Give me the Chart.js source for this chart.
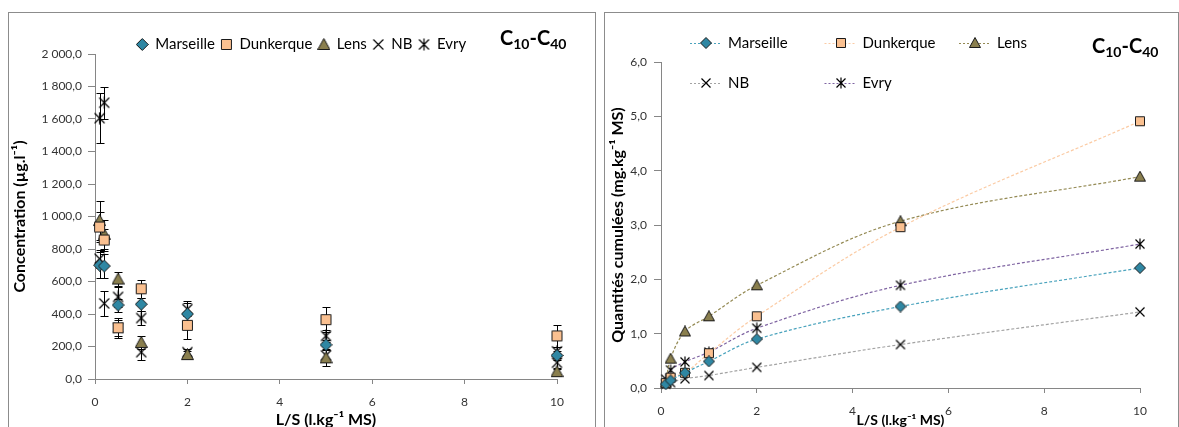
<!DOCTYPE html>
<html>
<head>
<meta charset="utf-8">
<script src="https://cdn.jsdelivr.net/npm/chart.js@4.4.1/dist/chart.umd.min.js"></script>
<style>
  body { margin: 0; background: #fff; width: 1179px; height: 427px; overflow: hidden; position: relative; font-family: Lato, "Open Sans", sans-serif; }
  .frame { position: absolute; border: 1px solid #8c8c8c; box-sizing: border-box; }
  .box { position: absolute; }
  .tag { position: absolute; font-weight: bold; font-size: 20px; color: #000; line-height: 1; white-space: nowrap; }
  .tag sub { font-size: 14px; vertical-align: -4px; line-height: 1; }
</style>
</head>
<body>
<div class="frame" style="left:8px;top:12px;width:588px;height:440px"></div>
<div class="frame" style="left:604px;top:12px;width:575px;height:440px"></div>
<div class="box" style="left:9px;top:13px"><canvas id="concChart" width="585" height="430"></canvas></div>
<div class="box" style="left:605px;top:13px"><canvas id="cumulChart" width="572" height="430"></canvas></div>
<div class="tag" style="left:500px;top:27px">C<sub>10</sub>-C<sub>40</sub></div>
<div class="tag" style="left:1092px;top:35px">C<sub>10</sub>-C<sub>40</sub></div>
<script>
// L/S ratios (l/kg MS)
const lsValues = [0.1, 0.2, 0.5, 1, 2, 5, 10];
const lsTicks = [0, 2, 4, 6, 8, 10];
const concTicks = [0, 200, 400, 600, 800, 1000, 1200, 1400, 1600, 1800, 2000];
const cumTicks = [0, 1, 2, 3, 4, 5, 6];

// concentrations (µg/l) and error bars
const concMarseille = [700, 695, 455, 460, 400, 210, 145];
const concDunkerque = [935, 855, 315, 555, 330, 365, 265];
const concLens = [975, 890, 615, 225, 150, 130, 45];
const concNB = [740, 465, 315, 165, 165, 145, 100];
const concEvry = [1605, 1700, 505, 375, 430, 265, 170];

const errMarseille = [80, 75, 40, 40, 78, 30, 30];
const errDunkerque = [90, 70, 60, 57, 85, 78, 67];
const errLens = [120, 88, 45, 40, 25, 50, 15];
const errNB = [55, 75, 50, 45, 20, 40, 30];
const errEvry = [155, 100, 60, 45, 40, 35, 30];

// cumulated quantities (mg/kg MS)
const cumMarseille = [0.07, 0.14, 0.28, 0.49, 0.90, 1.50, 2.21];
const cumDunkerque = [0.09, 0.19, 0.28, 0.64, 1.32, 2.96, 4.91];
const cumLens = [0.10, 0.54, 1.04, 1.32, 1.89, 3.07, 3.89];
const cumNB = [0.07, 0.10, 0.17, 0.23, 0.38, 0.80, 1.40];
const cumEvry = [0.16, 0.33, 0.48, 0.66, 1.10, 1.89, 2.65];

const siteNames = ['Marseille', 'Dunkerque', 'Lens', 'NB', 'Evry'];
const siteShapes = ['diamond', 'square', 'triangle', 'cross', 'asterisk'];
const siteFills = ['#2f87a3', '#fac090', '#8a7f4e', '#000', '#000'];
const siteLines = ['#4aa3bd', '#fbcba4', '#948a54', '#a3a3a3', '#7f64a2'];

Chart.defaults.font.family = 'Lato, "Open Sans", sans-serif';
Chart.defaults.color = '#333';

function makeMarker(shape, fill, s) {
  const c = document.createElement('canvas');
  c.width = s; c.height = s;
  const g = c.getContext('2d');
  const m = s / 2;
  g.lineWidth = 1;
  g.strokeStyle = '#1a1a1a';
  g.fillStyle = fill;
  g.beginPath();
  if (shape === 'diamond') {
    g.moveTo(m, 0.5); g.lineTo(s - 0.5, m); g.lineTo(m, s - 0.5); g.lineTo(0.5, m); g.closePath();
    g.fill(); g.stroke();
  } else if (shape === 'square') {
    g.rect(1.5, 1.5, s - 3, s - 3);
    g.fill(); g.stroke();
  } else if (shape === 'triangle') {
    g.moveTo(m, 0.5); g.lineTo(s - 0.5, s - 1.5); g.lineTo(0.5, s - 1.5); g.closePath();
    g.fill(); g.stroke();
  } else {
    g.lineWidth = 1.2;
    g.strokeStyle = '#000';
    g.moveTo(1.5, 1.5); g.lineTo(s - 1.5, s - 1.5);
    g.moveTo(s - 1.5, 1.5); g.lineTo(1.5, s - 1.5);
    if (shape === 'asterisk') { g.moveTo(m, 0.5); g.lineTo(m, s - 0.5); }
    g.stroke();
  }
  return c;
}

function pts(ys) {
  return lsValues.map((x, i) => ({ x: x, y: ys[i] }));
}

function fixedTicks(list) {
  return function(scale) { scale.ticks = list.map(v => ({ value: v })); };
}

function frNum(v) {
  const s = v.toFixed(1).replace('.', ',');
  return v >= 1000 ? s.slice(0, -5) + ' ' + s.slice(-5) : s;
}

// error bars drawn under the markers
const errorBars = {
  id: 'errorBars',
  beforeDatasetsDraw(chart) {
    const ctx = chart.ctx;
    const xs = chart.scales.x, ys = chart.scales.y;
    ctx.save();
    ctx.strokeStyle = '#000';
    ctx.lineWidth = 1;
    chart.data.datasets.forEach(ds => {
      ds.data.forEach((p, j) => {
        const e = ds.errors[j];
        const px = Math.round(xs.getPixelForValue(p.x)) + 0.5;
        const t = Math.round(ys.getPixelForValue(p.y + e)) + 0.5;
        const b = Math.round(ys.getPixelForValue(p.y - e)) + 0.5;
        ctx.beginPath();
        ctx.moveTo(px, t); ctx.lineTo(px, b);
        ctx.moveTo(px - 4, t); ctx.lineTo(px + 4, t);
        ctx.moveTo(px - 4, b); ctx.lineTo(px + 4, b);
        ctx.stroke();
      });
    });
    ctx.restore();
  }
};

// Excel-like legend: line sample + marker, 3 columns
const cumLegend = {
  id: 'cumLegend',
  afterDraw(chart) {
    const ctx = chart.ctx, a = chart.chartArea;
    ctx.save();
    ctx.font = '15px Lato, "Open Sans", sans-serif';
    ctx.fillStyle = '#000';
    ctx.textBaseline = 'middle';
    chart.data.datasets.forEach((ds, i) => {
      const col = i % 3, row = Math.floor(i / 3);
      const cx = a.left + 45 + col * 134.5;
      const cy = a.top - 19 + row * 40;
      ctx.strokeStyle = ds.borderColor;
      ctx.lineWidth = 1;
      ctx.setLineDash([2, 2]);
      ctx.beginPath();
      ctx.moveTo(cx - 16, cy + 0.5); ctx.lineTo(cx + 16, cy + 0.5);
      ctx.stroke();
      ctx.setLineDash([]);
      const img = ds.pointStyle;
      ctx.drawImage(img, Math.round(cx - img.width / 2), Math.round(cy - img.height / 2));
      ctx.fillText(ds.label, cx + 22, cy);
    });
    ctx.restore();
  }
};

function axisX(titleSize, titleBottom, height) {
  return {
    type: 'linear', min: 0, max: 10,
    afterBuildTicks: fixedTicks(lsTicks),
    grid: { drawOnChartArea: false, drawTicks: true, tickLength: 5, color: '#868686' },
    border: { color: '#868686' },
    ticks: { padding: 11, font: { size: 12 } },
    title: { display: true, text: 'L/S (l.kg⁻¹ MS)', color: '#000', font: { size: titleSize, weight: 'bold' }, padding: { top: 0, bottom: titleBottom } },
    afterFit: s => { s.height = height; }
  };
}

const concSets = [concMarseille, concDunkerque, concLens, concNB, concEvry];
const concErrs = [errMarseille, errDunkerque, errLens, errNB, errEvry];

new Chart(document.getElementById('concChart'), {
  type: 'scatter',
  data: {
    datasets: siteNames.map((name, i) => ({
      label: name,
      data: pts(concSets[i]),
      errors: concErrs[i],
      pointStyle: makeMarker(siteShapes[i], siteFills[i], 13),
      pointRadius: 6,
      backgroundColor: siteFills[i],
      borderColor: '#000',
      clip: false
    }))
  },
  options: {
    responsive: false,
    animation: false,
    layout: { padding: { top: 18, right: 0, bottom: 0, left: 0 } },
    plugins: {
      tooltip: { enabled: false },
      legend: {
        position: 'top',
        maxHeight: 23,
        labels: {
          usePointStyle: true,
          pointStyleWidth: 11,
          boxHeight: 13,
          padding: 6,
          color: '#000',
          font: { size: 15 },
          generateLabels: chart => chart.data.datasets.map((ds, i) => ({
            text: ds.label, pointStyle: ds.pointStyle, datasetIndex: i,
            hidden: false, lineWidth: 0, fillStyle: ds.backgroundColor, strokeStyle: '#000', fontColor: '#000'
          }))
        }
      }
    },
    scales: {
      x: axisX(16, 14, 64),
      y: {
        type: 'linear', min: 0, max: 2000,
        afterBuildTicks: fixedTicks(concTicks),
        grid: { drawOnChartArea: false, drawTicks: true, tickLength: 7, color: '#868686' },
        border: { color: '#868686' },
        ticks: { padding: 6, font: { size: 12 }, callback: v => frNum(v) },
        title: { display: true, text: 'Concentration (µg.l⁻¹)', color: '#000', font: { size: 16, weight: 'bold' }, padding: { top: 1, bottom: 0 } },
        afterFit: s => { s.width = 86; }
      },
      yRight: {
        position: 'right', display: true,
        grid: { display: false }, border: { display: false }, ticks: { display: false },
        afterFit: s => { s.width = 37; }
      }
    }
  },
  plugins: [errorBars]
});

const cumSets = [cumMarseille, cumDunkerque, cumLens, cumNB, cumEvry];

new Chart(document.getElementById('cumulChart'), {
  type: 'scatter',
  data: {
    datasets: siteNames.map((name, i) => ({
      label: name,
      data: pts(cumSets[i]),
      showLine: true,
      tension: 0.35,
      borderColor: siteLines[i],
      borderWidth: 1.2,
      borderDash: [3, 2],
      pointStyle: makeMarker(siteShapes[i], siteFills[i], 12),
      pointRadius: 6,
      backgroundColor: siteFills[i],
      clip: false
    }))
  },
  options: {
    responsive: false,
    animation: false,
    layout: { padding: { top: 49, right: 37, bottom: 0, left: 0 } },
    plugins: {
      tooltip: { enabled: false },
      legend: { display: false }
    },
    scales: {
      x: axisX(14, 14, 55),
      y: {
        type: 'linear', min: 0, max: 6,
        afterBuildTicks: fixedTicks(cumTicks),
        grid: { drawOnChartArea: false, drawTicks: true, tickLength: 7, color: '#868686' },
        border: { color: '#868686' },
        ticks: { padding: 7, font: { size: 12 }, callback: v => frNum(v) },
        title: { display: true, text: 'Quantités cumulées (mg.kg⁻¹ MS)', color: '#000', font: { size: 16, weight: 'bold' }, padding: { top: 3, bottom: 0 } },
        afterFit: s => { s.width = 56; }
      }
    }
  },
  plugins: [cumLegend]
});
</script>
</body>
</html>
